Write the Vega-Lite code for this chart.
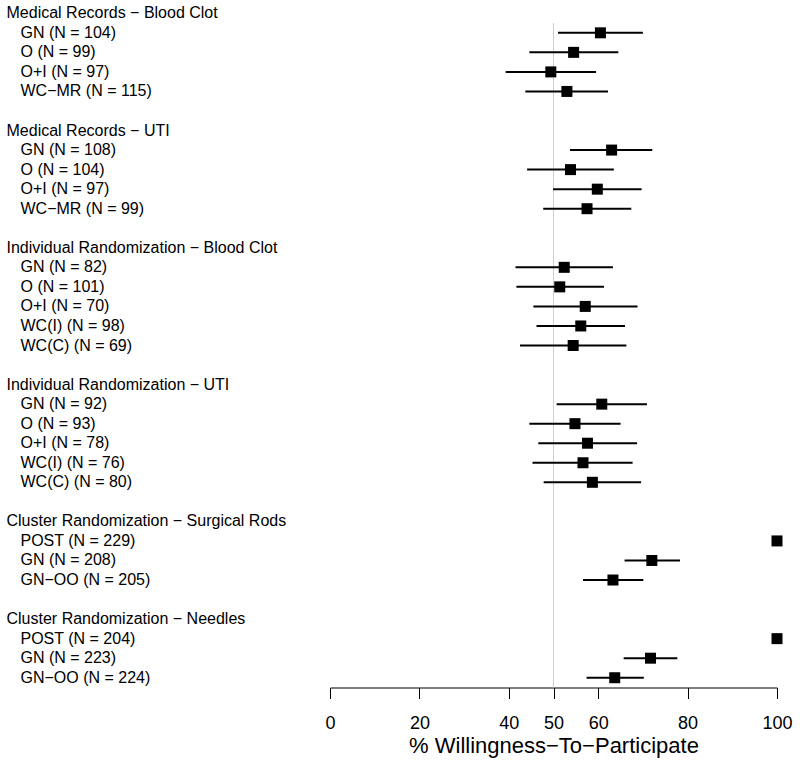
{
  "$schema": "https://vega.github.io/schema/vega-lite/v6.json",
  "autosize": {"type": "none"},
  "width": 447,
  "height": 684,
  "padding": {"left": 330, "top": 3.5, "right": 23, "bottom": 80},
  "config": {
    "view": {"stroke": null},
    "font": "Liberation Sans",
    "axis": {"labelFont": "Liberation Sans", "titleFont": "Liberation Sans", "labelColor": "black", "titleColor": "black"}
  },
  "data": {
    "values": [
      {"row": "00 Medical Records − Blood Clot"},
      {"row": "01 GN (N = 104)", "est": 60.5, "lo": 51.0, "hi": 70.0},
      {"row": "02 O (N = 99)", "est": 54.5, "lo": 44.6, "hi": 64.5},
      {"row": "03 O+I (N = 97)", "est": 49.4, "lo": 39.3, "hi": 59.5},
      {"row": "04 WC−MR (N = 115)", "est": 53.0, "lo": 43.7, "hi": 62.2},
      {"row": "05 "},
      {"row": "06 Medical Records − UTI"},
      {"row": "07 GN (N = 108)", "est": 63.0, "lo": 53.7, "hi": 72.1},
      {"row": "08 O (N = 104)", "est": 53.8, "lo": 44.1, "hi": 63.5},
      {"row": "09 O+I (N = 97)", "est": 59.8, "lo": 49.9, "hi": 69.7},
      {"row": "10 WC−MR (N = 99)", "est": 57.5, "lo": 47.7, "hi": 67.4},
      {"row": "11 "},
      {"row": "12 Individual Randomization − Blood Clot"},
      {"row": "13 GN (N = 82)", "est": 52.4, "lo": 41.5, "hi": 63.3},
      {"row": "14 O (N = 101)", "est": 51.4, "lo": 41.7, "hi": 61.3},
      {"row": "15 O+I (N = 70)", "est": 57.1, "lo": 45.5, "hi": 68.8},
      {"row": "16 WC(I) (N = 98)", "est": 56.1, "lo": 46.2, "hi": 66.0},
      {"row": "17 WC(C) (N = 69)", "est": 54.4, "lo": 42.5, "hi": 66.3},
      {"row": "18 "},
      {"row": "19 Individual Randomization − UTI"},
      {"row": "20 GN (N = 92)", "est": 60.8, "lo": 50.7, "hi": 70.9},
      {"row": "21 O (N = 93)", "est": 54.8, "lo": 44.6, "hi": 65.0},
      {"row": "22 O+I (N = 78)", "est": 57.6, "lo": 46.6, "hi": 68.7},
      {"row": "23 WC(I) (N = 76)", "est": 56.6, "lo": 45.3, "hi": 67.7},
      {"row": "24 WC(C) (N = 80)", "est": 58.7, "lo": 47.8, "hi": 69.6},
      {"row": "25 "},
      {"row": "26 Cluster Randomization − Surgical Rods"},
      {"row": "27 POST (N = 229)", "est": 100},
      {"row": "28 GN (N = 208)", "est": 72.0, "lo": 65.9, "hi": 78.3},
      {"row": "29 GN−OO (N = 205)", "est": 63.3, "lo": 56.6, "hi": 70.1},
      {"row": "30 "},
      {"row": "31 Cluster Randomization − Needles"},
      {"row": "32 POST (N = 204)", "est": 100},
      {"row": "33 GN (N = 223)", "est": 71.7, "lo": 65.7, "hi": 77.7},
      {"row": "34 GN−OO (N = 224)", "est": 63.7, "lo": 57.4, "hi": 70.2}
    ]
  },
  "encoding": {
    "y": {
      "field": "row",
      "type": "ordinal",
      "scale": {"type": "band", "paddingInner": 0, "paddingOuter": 0},
      "axis": {
        "title": null,
        "domain": false,
        "ticks": false,
        "labelAlign": "left",
        "labelBaseline": "middle",
        "labelFontSize": 16,
        "labelLimit": 400,
        "labelExpr": "slice(datum.value, 3)",
        "labelPadding": {"condition": {"test": "indexof(datum.value, '(N =') >= 0", "value": 310}, "value": 324}
      }
    }
  },
  "layer": [
    {
      "mark": {"type": "point", "opacity": 0}
    },
    {
      "data": {"values": [{"ref": 50}]},
      "mark": {"type": "rule", "color": "#cfcfcf", "strokeWidth": 1},
      "encoding": {
        "x": {"field": "ref", "type": "quantitative"},
        "y": {"datum": "01 GN (N = 104)", "type": "ordinal", "bandPosition": 0},
        "y2": {"value": "height"}
      }
    },
    {
      "mark": {"type": "rule", "color": "black", "strokeWidth": 2},
      "encoding": {
        "x": {"field": "lo", "type": "quantitative"},
        "x2": {"field": "hi"}
      }
    },
    {
      "mark": {"type": "square", "color": "black", "filled": true, "opacity": 1, "size": 121},
      "encoding": {
        "x": {
          "field": "est",
          "type": "quantitative",
          "scale": {"domain": [0, 100], "nice": false, "zero": false},
          "axis": {
            "values": [0, 20, 40, 50, 60, 80, 100],
            "grid": false,
            "domainColor": "black",
            "tickColor": "black",
            "tickSize": 11,
            "labelFontSize": 18,
            "labelPadding": 16,
            "labelFlush": false,
            "title": "% Willingness−To−Participate",
            "titleFontSize": 22,
            "titleFontWeight": "normal",
            "titlePadding": 3
          }
        }
      }
    }
  ]
}
